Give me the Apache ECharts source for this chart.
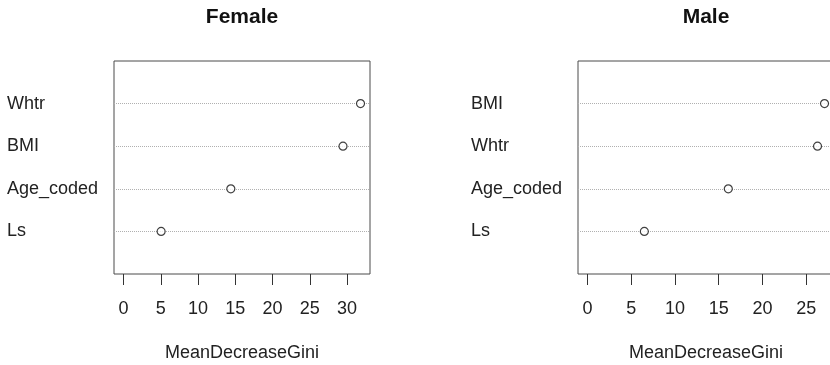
<!DOCTYPE html>
<html><head><meta charset="utf-8">
<script src="https://cdn.jsdelivr.net/npm/echarts@6/dist/echarts.min.js"></script>
<style>html,body{margin:0;padding:0;background:#fff}#c{width:830px;height:365px}</style>
</head><body><div id="c"></div>
<script>
// Data (bottom to top order, as in dotchart)
const femaleVars = ['Ls', 'Age_coded', 'BMI', 'Whtr'];
const femaleGini = [5.05, 14.4, 29.45, 31.8];
const maleVars = ['Ls', 'Age_coded', 'Whtr', 'BMI'];
const maleGini = [6.5, 16.1, 26.3, 27.1];
const xTickValues = [0, 5, 10, 15, 20, 25, 30];
const panelTitles = ['Female', 'Male'];
const xLabel = 'MeanDecreaseGini';

const FONT = '"Liberation Sans", Arial, sans-serif';
const TXT = '#222';

function panel(idx, vars, vals, left) {
  const mx = Math.max.apply(null, vals);
  const xmin = -0.04 * mx, xmax = 1.04 * mx;
  const ticks = xTickValues.filter(v => v >= xmin && v <= xmax);
  const grid = {left: left, top: 61, width: 256, height: 213, show: true,
    borderColor: '#4a4a4a', borderWidth: 1, backgroundColor: 'transparent',
    containLabel: false, outerBoundsMode: 'none'};
  const xAxis = {gridIndex: idx, type: 'value', min: xmin, max: xmax,
    axisLine: {show: false}, splitLine: {show: false},
    axisTick: {show: true, inside: false, length: 11, customValues: ticks, lineStyle: {color: '#333', width: 1}},
    axisLabel: {show: true, customValues: ticks, margin: 26, fontSize: 18, fontFamily: FONT, color: TXT},
    name: xLabel, nameLocation: 'middle', nameGap: 70,
    nameTextStyle: {fontSize: 18, fontFamily: FONT, color: TXT}};
  const cats = vars.map((v, i) => i + 1);
  const yAxis = {gridIndex: idx, type: 'value', min: 0, max: 5,
    axisLine: {show: false}, splitLine: {show: false}, axisTick: {show: false},
    axisLabel: {show: true, customValues: cats, align: 'left', margin: 107,
      fontSize: 18, fontFamily: FONT, color: TXT,
      formatter: v => vars[Math.round(v) - 1] || ''}};
  const series = {type: 'scatter', xAxisIndex: idx, yAxisIndex: idx,
    data: vals.map((v, i) => [v, i + 1]),
    symbol: 'circle', symbolSize: 8,
    itemStyle: {color: '#fff', borderColor: '#111', borderWidth: 1.2},
    z: 5,
    markLine: {silent: true, symbol: ['none', 'none'], label: {show: false},
      lineStyle: {type: 'dotted', color: '#b0b0b0', width: 1},
      data: cats.map(c => ({yAxis: c})), animation: false}};
  return {grid, xAxis, yAxis, series, center: left + 128};
}

const p1 = panel(0, femaleVars, femaleGini, 114);
const p2 = panel(1, maleVars, maleGini, 578);

const chart = echarts.init(document.getElementById('c'), null, {renderer: 'canvas'});
chart.setOption({
  animation: false,
  backgroundColor: '#fff',
  grid: [p1.grid, p2.grid],
  xAxis: [p1.xAxis, p2.xAxis],
  yAxis: [p1.yAxis, p2.yAxis],
  series: [p1.series, p2.series],
  graphic: [p1, p2].map((p, i) => ({type: 'text', x: p.center, y: 17,
    style: {text: panelTitles[i], align: 'center', verticalAlign: 'middle',
      font: 'bold 21px ' + FONT, fill: '#111'}}))
});
</script></body></html>
